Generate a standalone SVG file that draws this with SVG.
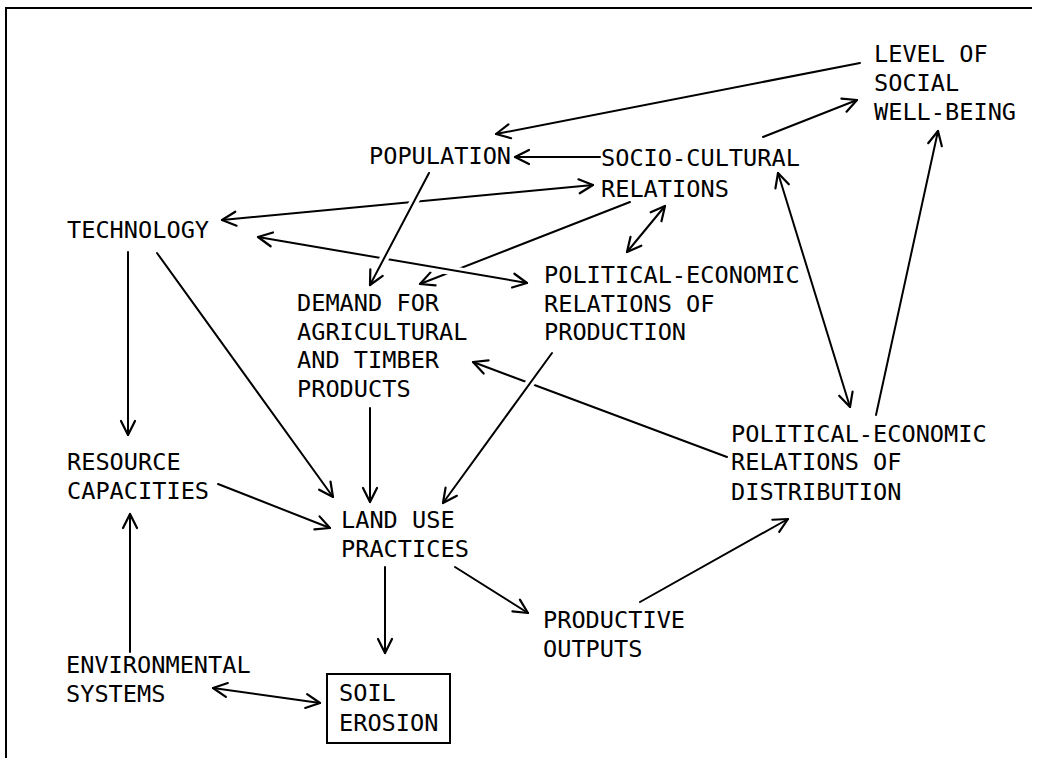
<svg xmlns="http://www.w3.org/2000/svg" width="1042" height="763" viewBox="0 0 1042 763">
<defs>
<marker id="ah" markerUnits="userSpaceOnUse" viewBox="-16 -9 18 18" refX="0" refY="0" markerWidth="18" markerHeight="18" orient="auto-start-reverse">
<path d="M-14,-7 L0,0 L-14,7" fill="none" stroke="#000" stroke-width="2.2" stroke-linecap="round" stroke-linejoin="round"/>
</marker>
<style>
.t{font-family:"DejaVu Sans Mono","Liberation Mono",monospace;font-size:23.6px;fill:#000}
.c{fill:none;stroke:#000;stroke-width:2;stroke-linecap:round}
.a{marker-end:url(#ah)}
.b{marker-start:url(#ah);marker-end:url(#ah)}
.h{fill:none;stroke:#fff;stroke-width:9}
.f{fill:none;stroke:#000;stroke-width:2}
</style>
</defs>
<rect width="1042" height="763" fill="#fff"/>
<path class="f" d="M6,758 V8 H1032"/>
<g id="connectors">
<line class="c a" x1="860" y1="63" x2="496" y2="134"/>
<line class="c a" x1="600" y1="157" x2="515" y2="157"/>
<line class="c a" x1="763" y1="137" x2="857" y2="100"/>
<line class="c a" x1="876" y1="415" x2="938" y2="131"/>
<line class="c b" x1="778" y1="173" x2="850" y2="407"/>
<line class="c b" x1="665" y1="206" x2="627" y2="252"/>
<line class="c a" x1="630" y1="202" x2="420" y2="284"/>
<line class="c b" x1="222" y1="220" x2="593" y2="185"/>
<line class="h" x1="300" y1="245" x2="490" y2="277"/>
<line class="c b" x1="258" y1="237" x2="527" y2="283"/>
<line class="h" x1="425" y1="181" x2="377" y2="272"/>
<line class="c a" x1="429" y1="173" x2="370" y2="285"/>
<line class="c a" x1="128" y1="252" x2="128" y2="435"/>
<line class="c a" x1="157" y1="253" x2="333" y2="497"/>
<line class="c a" x1="370" y1="408" x2="370" y2="502"/>
<line class="c a" x1="727" y1="457" x2="473" y2="362"/>
<line class="h" x1="548" y1="358" x2="460" y2="480"/>
<line class="c a" x1="552" y1="353" x2="443" y2="503"/>
<line class="c a" x1="218" y1="484" x2="330" y2="528"/>
<line class="c a" x1="130" y1="652" x2="130" y2="514"/>
<line class="c a" x1="385" y1="567" x2="385" y2="653"/>
<line class="c b" x1="213" y1="688" x2="320" y2="703"/>
<line class="c a" x1="455" y1="567" x2="528" y2="613"/>
<line class="c a" x1="640" y1="602" x2="788" y2="519"/>
</g>
<g id="level">
<text class="t"><tspan x="874" y="62">LEVEL OF</tspan><tspan x="874" y="91">SOCIAL</tspan><tspan x="874" y="120">WELL-BEING</tspan></text>
</g>
<g id="population">
<text class="t" x="369" y="164">POPULATION</text>
</g>
<g id="socio">
<text class="t"><tspan x="601" y="166">SOCIO-CULTURAL</tspan><tspan x="601" y="197">RELATIONS</tspan></text>
</g>
<g id="technology">
<text class="t" x="67" y="238">TECHNOLOGY</text>
</g>
<g id="demand">
<text class="t"><tspan x="297" y="311">DEMAND FOR</tspan><tspan x="297" y="340">AGRICULTURAL</tspan><tspan x="297" y="368">AND TIMBER</tspan><tspan x="297" y="397">PRODUCTS</tspan></text>
</g>
<g id="production">
<text class="t"><tspan x="544" y="283">POLITICAL-ECONOMIC</tspan><tspan x="544" y="312">RELATIONS OF</tspan><tspan x="544" y="340">PRODUCTION</tspan></text>
</g>
<g id="distribution">
<text class="t"><tspan x="731" y="442">POLITICAL-ECONOMIC</tspan><tspan x="731" y="470">RELATIONS OF</tspan><tspan x="731" y="500">DISTRIBUTION</tspan></text>
</g>
<g id="resource">
<text class="t"><tspan x="67" y="470">RESOURCE</tspan><tspan x="67" y="499">CAPACITIES</tspan></text>
</g>
<g id="landuse">
<text class="t"><tspan x="341" y="528">LAND USE</tspan><tspan x="341" y="557">PRACTICES</tspan></text>
</g>
<g id="productive">
<text class="t"><tspan x="543" y="628">PRODUCTIVE</tspan><tspan x="543" y="657">OUTPUTS</tspan></text>
</g>
<g id="environmental">
<text class="t"><tspan x="66" y="673">ENVIRONMENTAL</tspan><tspan x="66" y="702">SYSTEMS</tspan></text>
</g>
<g id="soil">
<rect class="f" x="327" y="674" width="123" height="69"/>
<text class="t"><tspan x="339" y="701">SOIL</tspan><tspan x="339" y="731">EROSION</tspan></text>
</g>
</svg>
